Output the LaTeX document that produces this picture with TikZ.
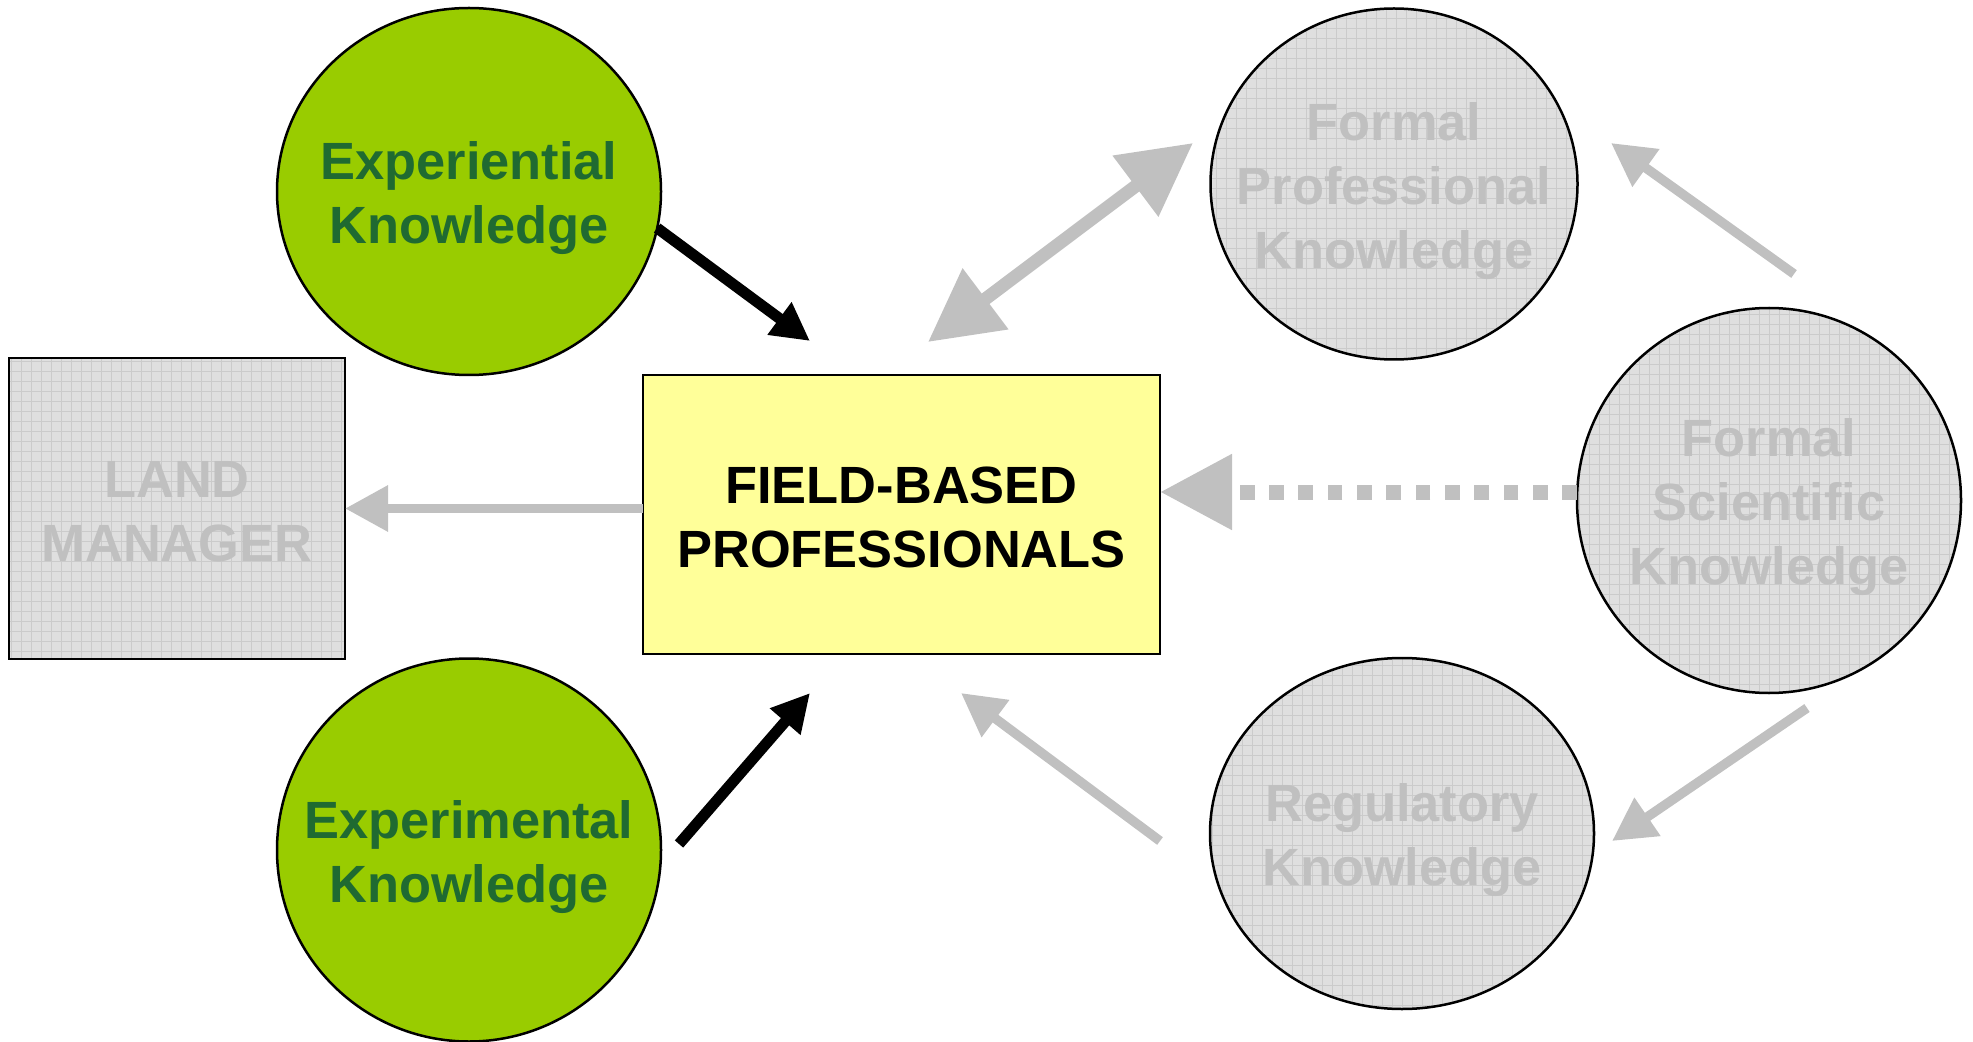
\documentclass[tikz,border=0pt]{standalone}
\usepackage{fontspec}
\setmainfont{Liberation Sans}
\usetikzlibrary{arrows.meta,shapes.geometric,calc}

\definecolor{kgreen}{HTML}{99CC00}
\definecolor{ktext}{RGB}{31,106,49}
\definecolor{kgray}{HTML}{C0C0C0}
\definecolor{kfill}{HTML}{DFDFDF}
\definecolor{kgrid}{HTML}{CBCBCB}
\definecolor{kyellow}{HTML}{FFFF99}
\newcommand{\kst}{\rule{0pt}{25.6pt}}
\newcommand{\kdp}{\rule[-5pt]{0pt}{0pt}}

\begin{document}
\begin{tikzpicture}[x=0.5pt,y=-0.5pt,
  every node/.style={inner sep=0pt, outer sep=0pt},
  lbl/.style={font=\bfseries\fontsize{26.2}{32}\selectfont, align=center},
  gridpic/.style={path picture={\draw[kgrid, line width=0.5pt, step=5pt]
      (path picture bounding box.south west) grid (path picture bounding box.north east);}},
  greenell/.style={ellipse, inner sep=-25pt, draw=black, line width=1.25pt, fill=kgreen, lbl, text=ktext},
  grayell/.style={ellipse, inner sep=-25pt, draw=black, line width=1.25pt, fill=kfill, gridpic, lbl, text=kgray},
  graybox/.style={rectangle, draw=black, line width=1.25pt, fill=kfill, gridpic, lbl, text=kgray},
  fieldbox/.style={rectangle, draw=black, line width=1.25pt, fill=kyellow, lbl, text=black},
  blackarrow/.style={draw=black, line width=5.5pt, -{Triangle[length=19pt,width=19pt]}},
  grayarrow/.style={draw=kgray, line width=4.75pt, -{Triangle[length=21.5pt,width=22pt]}},
  dblarrow/.style={draw=kgray, line width=6.5pt,
    {Triangle[length=36pt,width=36.5pt]}-{Triangle[length=36pt,width=36.5pt]}},
  dotarrow/.style={draw=kgray, line width=7.5pt, dash pattern=on 7.33pt off 7.33pt,
    -{Triangle[length=36pt,width=36pt]}}
]
\useasboundingbox (0,0) rectangle (1973,1042);

% nodes
\node[greenell, minimum width=192pt, minimum height=183.5pt] (exptl) at (469,191.5) {\kst Experiential\\Knowledge};
\node[greenell, minimum width=192pt, minimum height=191.5pt] (expmt) at (469,850) {\kst Experimental\\Knowledge};
\node[graybox, minimum width=168pt, minimum height=150.5pt] (land) at (177,508.5) {\kst LAND\\MANAGER\kdp};
\node[fieldbox, minimum width=258.5pt, minimum height=139.5pt] (field) at (901.5,514.5) {\kst FIELD-BASED\\PROFESSIONALS\kdp};
\node[grayell, minimum width=183.5pt, minimum height=175.5pt] (fpk) at (1394,184) {\kst Formal\\Professional\\Knowledge};
\node[grayell, minimum width=192pt, minimum height=192.5pt] (fsk) at (1769,500.5) {\kst Formal\\Scientific\\Knowledge};
\node[grayell, minimum width=192pt, minimum height=175.5pt] (reg) at (1402,833.5) {\kst Regulatory\\Knowledge};

% free ends of connectors
\coordinate (t1) at (810,341);
\coordinate (s2) at ([shift={(18,-6)}]expmt.east);
\coordinate (t2) at (810,693);
\coordinate (d1) at (928,342);
\coordinate (d2) at (1193,143);
\coordinate (s5) at (1794,274);
\coordinate (t5) at (1611,143);
\coordinate (s6) at ([shift={(0,-8.5)}]fsk.west);
\coordinate (s7) at (1160,841);
\coordinate (t7) at (961,693);
\coordinate (s8) at (1807,708);
\coordinate (t8) at (1612,841);

% connectors
\draw[blackarrow] (exptl.-11) -- (t1);
\draw[blackarrow] (s2) -- (t2);
\draw[grayarrow] (field.west |- land.east) -- (land.east);
\draw[dblarrow] (d1) -- (d2);
\draw[grayarrow] (s5) -- (t5);
\draw[dotarrow] (s6) -- (field.east |- s6);
\draw[grayarrow] (s7) -- (t7);
\draw[grayarrow] (s8) -- (t8);
\end{tikzpicture}
\end{document}
